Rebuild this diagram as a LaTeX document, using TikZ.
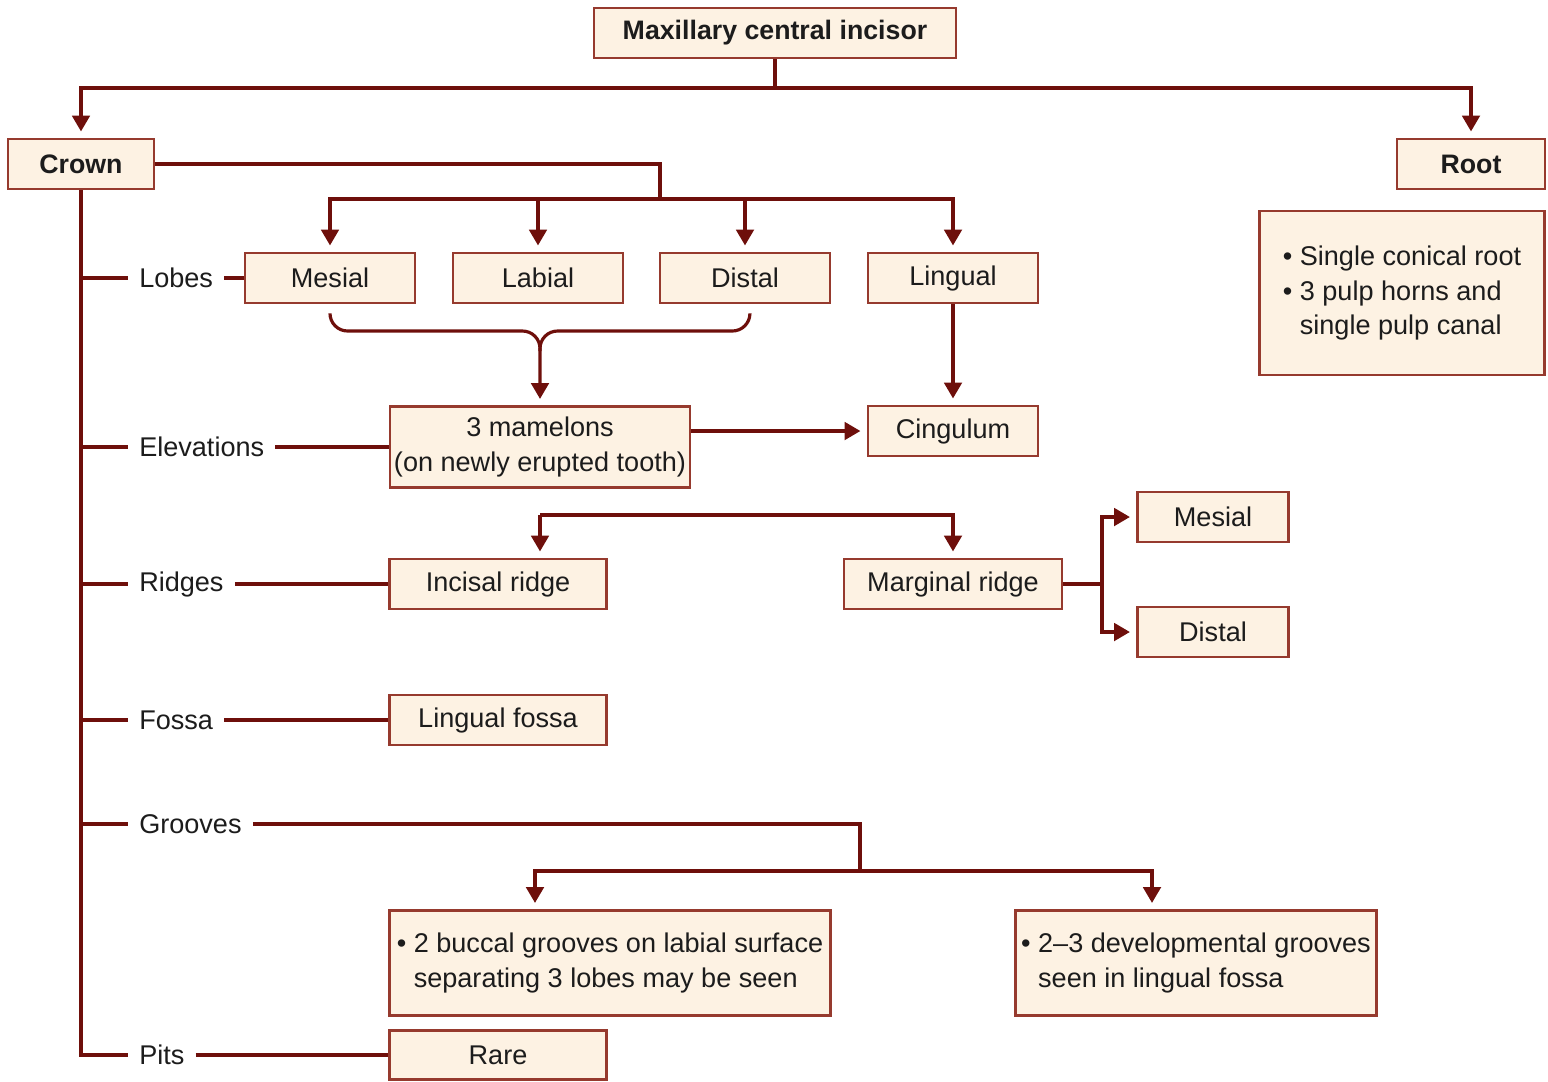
\documentclass[tikz,border=0pt]{standalone}
\usepackage{fontspec}
\setmainfont{Liberation Sans}
\usetikzlibrary{arrows.meta, positioning}
\definecolor{linered}{HTML}{6E0F0B}
\definecolor{boxedge}{HTML}{963A2E}
\definecolor{boxfill}{HTML}{FDF2E3}
\definecolor{inktext}{HTML}{1C1C1C}

\tikzset{
  txt/.style={text=inktext, font=\fontsize{7.7}{9.8}\selectfont},
  box/.style={txt, draw=boxedge, fill=boxfill, line width=0.7pt,
              minimum height=0.5cm, inner sep=1pt},
  headbox/.style={box, font=\fontsize{7.6}{9.8}\selectfont\bfseries},
  lbl/.style={txt, anchor=west, inner xsep=3pt, inner ysep=1pt},
  conn/.style={draw=linered, line width=0.9pt},
  arr/.style={conn, -{Triangle[width=5pt,length=4.5pt]}, shorten >=1.8pt},
}

\begin{document}
\begin{tikzpicture}[x=0.01cm, y=-0.01cm]
  \useasboundingbox (0,0) rectangle (1548,1081);

  % top level
  \node[headbox, minimum width=3.62cm] (tooth) at (775,33) {Maxillary central incisor};
  \node[headbox, minimum width=1.46cm] (crown) at (81,164) {Crown};
  \node[headbox, minimum width=1.48cm] (root) at (1471,164) {Root};
  \node[box, minimum width=2.85cm, minimum height=1.64cm, align=left] (rootinfo) at (1402,293)
    {\textbullet\ Single conical root\\ \textbullet\ 3 pulp horns and\\ \phantom{\textbullet\ }single pulp canal};

  % crown features
  \node[lbl] (lobes) at (128,278) {Lobes};
  \node[lbl] (elev) at (128,447) {Elevations};
  \node[lbl] (ridges) at (128,584) {Ridges};
  \node[lbl] (fossa) at (128,720) {Fossa};
  \node[lbl] (grooves) at (128,824) {Grooves};
  \node[lbl] (pits) at (128,1055) {Pits};

  % lobes
  \node[box, minimum width=1.70cm] (lmes) at (330,278) {Mesial};
  \node[box, minimum width=1.70cm] (llab) at (538,278) {Labial};
  \node[box, minimum width=1.70cm] (ldis) at (745,278) {Distal};
  \node[box, minimum width=1.70cm] (lling) at (953,278) {Lingual};

  % elevations
  \node[box, minimum width=3.0cm, minimum height=0.81cm, align=center] (mam) at (540,447)
    {3 mamelons\\(on newly erupted tooth)};
  \node[box, minimum width=1.70cm] (cing) at (953,431) {Cingulum};

  % ridges
  \node[box, minimum width=2.17cm] (incisal) at (498,584) {Incisal ridge};
  \node[box, minimum width=2.18cm] (marginal) at (953,584) {Marginal ridge};
  \node[box, minimum width=1.51cm] (mes2) at (1213,517) {Mesial};
  \node[box, minimum width=1.51cm] (dis2) at (1213,632) {Distal};

  % fossa, grooves, pits
  \node[box, minimum width=2.17cm] (lfossa) at (498,720) {Lingual fossa};
  \node[box, minimum width=4.41cm, minimum height=1.05cm, align=left] (groove1) at (610,963)
    {\textbullet\ 2 buccal grooves on labial surface\\ \phantom{\textbullet\ }separating 3 lobes may be seen};
  \node[box, minimum width=3.61cm, minimum height=1.05cm, align=left] (groove2) at (1196,963)
    {\textbullet\ 2--3 developmental grooves\\ \phantom{\textbullet\ }seen in lingual fossa};
  \node[box, minimum width=2.17cm, minimum height=0.49cm] (rare) at (498,1055) {Rare};

  % junctions
  \coordinate (topj) at (775,88);
  \coordinate (lobej) at (660,199);
  \coordinate (bracej) at (540,331);
  \coordinate (ridgej) at (540,515);
  \coordinate (margj) at (1102,584);
  \coordinate (groovej) at (860,871);
  \coordinate (g1x) at (535,871);
  \coordinate (g2x) at (1152,871);

  % connectors
  \draw[conn] (tooth.south) -- (topj);
  \draw[arr] (topj) -| (crown.north);
  \draw[arr] (topj) -| (root.north);

  \draw[conn] (crown.south) |- (pits.west);
  \foreach \n in {lobes, elev, ridges, fossa, grooves}
    \draw[conn] (crown.south |- \n.west) -- (\n.west);

  \draw[conn] (crown.east) -| (lobej);
  \foreach \n in {lmes, llab, ldis, lling}
    \draw[arr] (lobej) -| (\n.north);
  \draw[conn] (lobes.east) -- (lmes.west);

  \draw[arr, rounded corners=5pt] ([yshift=-2.8pt]lmes.south) |- (bracej) -- (mam.north);
  \draw[conn, rounded corners=5pt] ([xshift=1.4pt, yshift=-2.8pt]ldis.south) |- (bracej) -- ++(0,20);
  \draw[arr] (lling.south) -- (cing.north);
  \draw[conn] (elev.east) -- (mam.west);
  \draw[arr] (mam.east |- cing.west) -- (cing.west);

  \draw[conn] (ridges.east) -- (incisal.west);
  \draw[arr] (ridgej) -- (ridgej |- incisal.north);
  \draw[arr] (ridgej) -| (marginal.north);
  \draw[conn] (marginal.east) -- (margj);
  \draw[arr] (margj) |- (mes2.west);
  \draw[arr] (margj) |- (dis2.west);

  \draw[conn] (fossa.east) -- (lfossa.west);

  \draw[conn] (grooves.east) -| (groovej);
  \draw[arr] (groovej) -- (g1x) -- (g1x |- groove1.north);
  \draw[arr] (groovej) -- (g2x) -- (g2x |- groove2.north);

  \draw[conn] (pits.east) -- (rare.west);
\end{tikzpicture}
\end{document}
